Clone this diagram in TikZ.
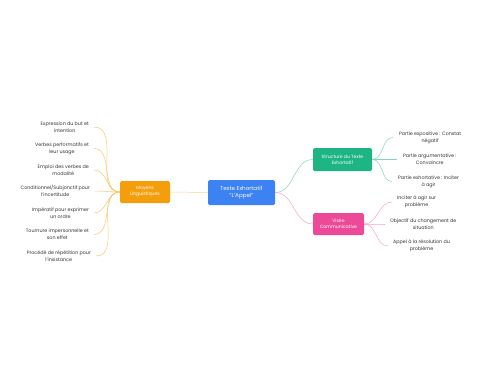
\documentclass[tikz,border=0pt]{standalone}
\usepackage{fontspec}
\setmainfont{Poppins}
\definecolor{mainblue}{HTML}{3D82F2}
\definecolor{linorange}{HTML}{F59E0B}
\definecolor{strgreen}{HTML}{1DB583}
\definecolor{visepink}{HTML}{EC4A98}
\definecolor{leaftext}{HTML}{333333}
\begin{document}
\begin{tikzpicture}[x=1pt,y=-1pt,
    topic/.style={rounded corners=1.5pt, text=white, align=center, inner sep=1pt,
      font=\fontsize{4.6}{6}\selectfont},
    leaf/.style={text=leaftext, align=center, inner xsep=2pt, inner ysep=0pt,
      font=\fontsize{4.8}{6.8}\selectfont},
    link/.style={line width=0.5pt}]
    % fix page size
    \useasboundingbox (0,0) rectangle (480,384);

    % Central topic
    \node[topic, fill=mainblue, minimum width=67pt, minimum height=25pt,
      font=\fontsize{5.6}{7}\selectfont] (main) at (241.5,192.5) {Texte Exhortatif\\"L'Appel"};

    % Main branches
    \node[topic, fill=linorange, minimum width=50pt, minimum height=22pt] (moyens) at (145,192) {Moyens\\Linguistiques};
    \node[topic, fill=strgreen, minimum width=59pt, minimum height=23pt] (structure) at (342.5,159.5) {Structure du Texte\\Exhortatif};
    \node[topic, fill=visepink, minimum width=51pt, minimum height=22pt] (visee) at (338.5,224) {Visée\\Communicative};

    \draw[link, linorange!45] (main.west) -- (moyens.east);
    \draw[link, strgreen!55] (main.east) to[out=0,in=180] (structure.west);
    \draw[link, visepink!50] (main.east) to[out=0,in=180] (visee.west);

    % Moyens linguistiques
    \node[leaf, anchor=east] (m1) at (91,127) {Expression du but et\\intention};
    \node[leaf, anchor=east] (m2) at (91,148.5) {Verbes performatifs et\\leur usage};
    \node[leaf, anchor=east] (m3) at (91,170) {Emploi des verbes de\\modalité};
    \node[leaf, anchor=east] (m4) at (92,191) {Conditionnel/Subjonctif pour\\l'incertitude};
    \node[leaf, anchor=east] (m5) at (91,213) {Impératif pour exprimer\\un ordre};
    \node[leaf, anchor=east] (m6) at (91,234.5) {Tournure impersonnelle et\\son effet};
    \node[leaf, anchor=east] (m7) at (93,256) {Procédé de répétition pour\\l'insistance};
    \foreach \n in {1,...,7} {
      \draw[link, linorange!60] (moyens.west) to[out=180,in=0] ([xshift=3pt]m\n.east);
    }

    % Structure du texte
    \node[leaf, anchor=west] (s1) at (397,137.5) {Partie expositive : Constat\\négatif};
    \node[leaf, anchor=west] (s2) at (401,159.5) {Partie argumentative :\\Convaincre};
    \node[leaf, anchor=west] (s3) at (396,181.5) {Partie exhortative : Inciter\\à agir};
    \foreach \n in {1,2,3} {
      \draw[link, strgreen!55] (structure.east) to[out=0,in=180] ([xshift=-4pt]s\n.west);
    }

    % Visee communicative
    \node[leaf, anchor=west] (v1) at (395,202) {Inciter à agir sur\\problème};
    \node[leaf, anchor=west] (v2) at (388,224) {Objectif du changement de\\situation};
    \node[leaf, anchor=west] (v3) at (391,246) {Appel à la résolution du\\problème};
    \foreach \n in {1,2,3} {
      \draw[link, visepink!50] (visee.east) to[out=0,in=180] ([xshift=-3pt]v\n.west);
    }
\end{tikzpicture}
\end{document}
